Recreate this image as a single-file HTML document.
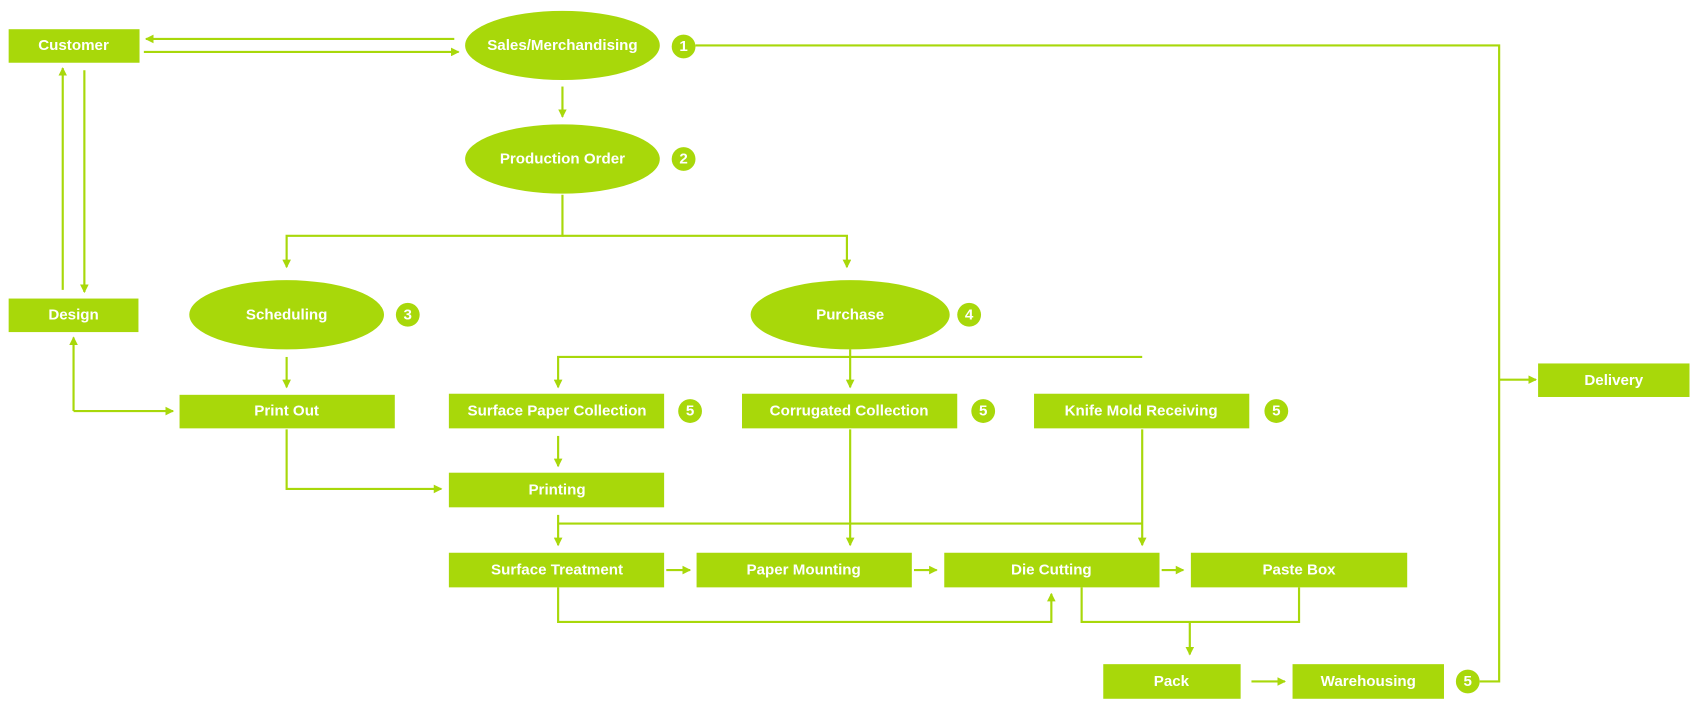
<!DOCTYPE html>
<html><head><meta charset="utf-8"><style>
html,body{margin:0;padding:0;background:#fff;}
svg{display:block;}
svg text{font-family:"Liberation Sans",sans-serif;font-weight:bold;font-size:14px;fill:#fff;text-anchor:middle;dominant-baseline:central;}
</style></head><body>
<svg width="1696" height="711" viewBox="0 0 1568 657.3" preserveAspectRatio="none" xmlns="http://www.w3.org/2000/svg">
<defs>
<marker id="a" markerWidth="8" markerHeight="8" refX="7" refY="4" orient="auto" markerUnits="userSpaceOnUse">
<path d="M0,0 L8,4 L0,8 z" fill="#a8d80a"/></marker>
</defs>
<g fill="#a8d80a">
<rect x="8" y="27" width="121" height="31"/>
<ellipse cx="520" cy="42" rx="90" ry="32"/>
<ellipse cx="520" cy="147" rx="90" ry="32"/>
<ellipse cx="265" cy="291" rx="90" ry="32"/>
<ellipse cx="786" cy="291" rx="92" ry="32"/>
<rect x="8" y="276" width="120" height="31"/>
<rect x="166" y="365" width="199" height="31"/>
<rect x="415" y="364" width="199" height="32"/>
<rect x="686" y="364" width="199" height="32"/>
<rect x="956" y="364" width="199" height="32"/>
<rect x="415" y="437" width="199" height="32"/>
<rect x="415" y="511" width="199" height="32"/>
<rect x="644" y="511" width="199" height="32"/>
<rect x="873" y="511" width="199" height="32"/>
<rect x="1101" y="511" width="200" height="32"/>
<rect x="1020" y="614" width="127" height="32"/>
<rect x="1195" y="614" width="140" height="32"/>
<rect x="1422" y="336" width="140" height="31"/>
<circle cx="632" cy="43" r="11"/>
<circle cx="632" cy="147" r="11"/>
<circle cx="377" cy="291" r="11"/>
<circle cx="896" cy="291" r="11"/>
<circle cx="638" cy="380" r="11"/>
<circle cx="909" cy="380" r="11"/>
<circle cx="1180" cy="380" r="11"/>
<circle cx="1357" cy="630" r="11"/>
</g>
<g stroke="#a8d80a" stroke-width="2" fill="none">
<path d="M420,36 H135" marker-end="url(#a)"/>
<path d="M133,48 H424" marker-end="url(#a)"/>
<path d="M520,80 V108" marker-end="url(#a)"/>
<path d="M520,180 V218 H265 V247" marker-end="url(#a)"/>
<path d="M520,218 H783 V247" marker-end="url(#a)"/>
<path d="M643,42 H1386 V630 H1368"/>
<path d="M1386,351 H1420" marker-end="url(#a)"/>
<path d="M58,268 V63" marker-end="url(#a)"/>
<path d="M78,65 V270" marker-end="url(#a)"/>
<path d="M265,330 V358" marker-end="url(#a)"/>
<path d="M68,380 V312" marker-end="url(#a)"/>
<path d="M68,380 H160" marker-end="url(#a)"/>
<path d="M1056,330 H516 V358" marker-end="url(#a)"/>
<path d="M786,323 V358" marker-end="url(#a)"/>
<path d="M516,403 V431" marker-end="url(#a)"/>
<path d="M265,397 V452 H408" marker-end="url(#a)"/>
<path d="M516,476 V504" marker-end="url(#a)"/>
<path d="M516,484 H1056"/>
<path d="M786,397 V504" marker-end="url(#a)"/>
<path d="M1056,397 V504" marker-end="url(#a)"/>
<path d="M616,527 H638" marker-end="url(#a)"/>
<path d="M845,527 H866" marker-end="url(#a)"/>
<path d="M1074,527 H1094" marker-end="url(#a)"/>
<path d="M516,543 V575 H972 V549" marker-end="url(#a)"/>
<path d="M1000,543 V575 H1201 V543"/>
<path d="M1100,575 V605" marker-end="url(#a)"/>
<path d="M1157,630 H1188" marker-end="url(#a)"/>
</g>
<text x="68" y="42">Customer</text>
<text x="520" y="42">Sales/Merchandising</text>
<text x="520" y="147">Production Order</text>
<text x="265" y="291">Scheduling</text>
<text x="786" y="291">Purchase</text>
<text x="68" y="291">Design</text>
<text x="265" y="380">Print Out</text>
<text x="515" y="380">Surface Paper Collection</text>
<text x="785" y="380">Corrugated Collection</text>
<text x="1055" y="380">Knife Mold Receiving</text>
<text x="515" y="453">Printing</text>
<text x="515" y="527">Surface Treatment</text>
<text x="743" y="527">Paper Mounting</text>
<text x="972" y="527">Die Cutting</text>
<text x="1201" y="527">Paste Box</text>
<text x="1083" y="630">Pack</text>
<text x="1265" y="630">Warehousing</text>
<text x="1492" y="352">Delivery</text>
<text x="632" y="43">1</text>
<text x="632" y="147">2</text>
<text x="377" y="291">3</text>
<text x="896" y="291">4</text>
<text x="638" y="380">5</text>
<text x="909" y="380">5</text>
<text x="1180" y="380">5</text>
<text x="1357" y="630">5</text>
</svg>
</body></html>
